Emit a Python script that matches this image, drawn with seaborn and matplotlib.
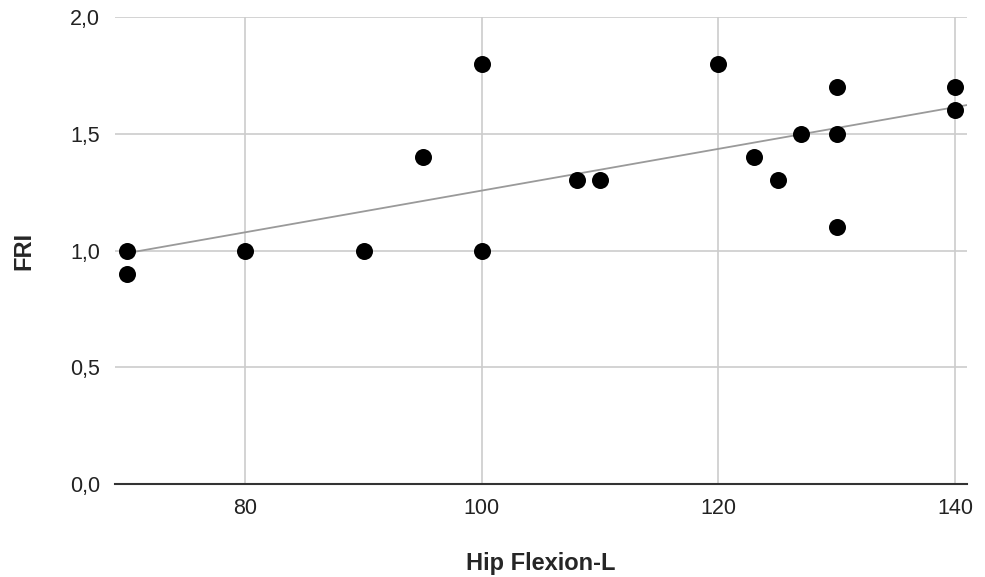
import seaborn as sns
import matplotlib.pyplot as plt
import numpy as np
import pandas as pd

# data
hip_flexion = [70, 70, 80, 90, 95, 100, 100, 108, 110, 120, 123, 125, 127, 130, 130, 130, 140, 140]
fri = [1.0, 0.9, 1.0, 1.0, 1.4, 1.8, 1.0, 1.3, 1.3, 1.8, 1.4, 1.3, 1.5, 1.7, 1.5, 1.1, 1.7, 1.6]
y_ticks = [0.0, 0.5, 1.0, 1.5, 2.0]
x_ticks = [80, 100, 120, 140]

df = pd.DataFrame({"Hip Flexion-L": hip_flexion, "FRI": fri})

sns.set_style("white")
plt.rcParams["font.family"] = ["Liberation Sans", "DejaVu Sans"]

fig = plt.figure(figsize=(9.85, 5.77), dpi=100)
ax = fig.add_axes([0.1168, 0.1612, 0.8649, 0.8093])

ax.set_xlim(69, 141)
ax.set_ylim(0, 2.0)

# linear trendline
slope, intercept = np.polyfit(df["Hip Flexion-L"], df["FRI"], 1)
xs = np.array([min(hip_flexion), 141])
ax.plot(xs, slope * xs + intercept, color="#9a9a9a", lw=1.3, zorder=2)

sns.scatterplot(data=df, x="Hip Flexion-L", y="FRI", color="black", s=150,
                edgecolor="black", linewidth=0, ax=ax, zorder=3, clip_on=False)

ax.set_xticks(x_ticks)
ax.set_yticks(y_ticks)
ax.set_yticklabels([f"{v:.1f}".replace(".", ",") for v in y_ticks])
ax.grid(True, color="#cccccc", lw=1.2)
ax.set_axisbelow(True)

for side in ["top", "right", "left"]:
    ax.spines[side].set_visible(False)
ax.spines["bottom"].set_color("#333333")
ax.spines["bottom"].set_linewidth(1.5)
ax.tick_params(axis="both", length=0, labelsize=15.5, colors="#222222", pad=10)
ax.tick_params(axis="y", pad=11)

ax.set_xlabel("Hip Flexion-L", fontsize=17, fontweight="bold", labelpad=24)
ax.set_ylabel("FRI", fontsize=17, fontweight="bold", labelpad=25)

fig.savefig("out.png", dpi=100)
plt.close()
